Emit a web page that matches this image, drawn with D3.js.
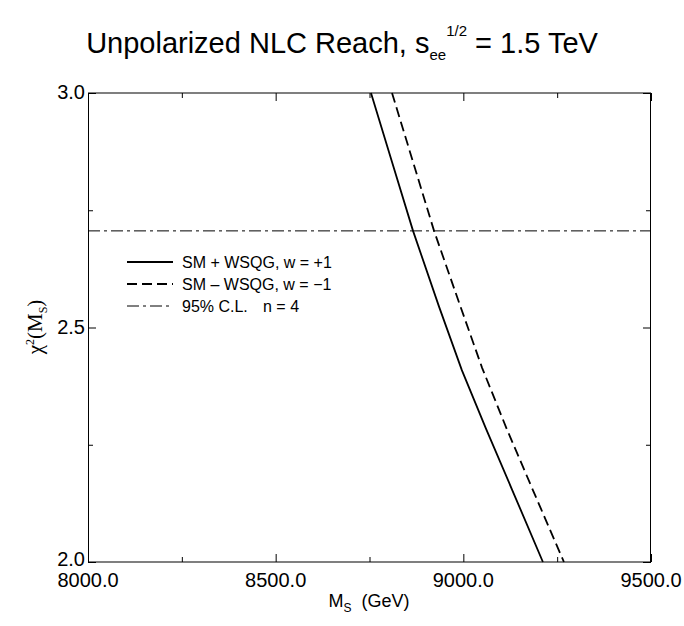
<!DOCTYPE html>
<html>
<head>
<meta charset="utf-8">
<script src="https://cdn.jsdelivr.net/npm/d3@7"></script>
<style>
  body { margin: 0; background: white; }
  text { font-family: "Liberation Sans", Arial, sans-serif; fill: black; }
</style>
</head>
<body>
<div id="grafico"></div>
<script>
// datos
var masas_mas = [8754, 8810, 8866, 8935, 8996, 9060, 9130, 9212];
var chi_mas = [3.0, 2.853, 2.706, 2.545, 2.409, 2.285, 2.154, 2.0];
var masas_menos = [8810, 8866, 8922, 8990, 9050, 9115, 9185, 9268];
var chi_menos = [3.0, 2.853, 2.706, 2.55, 2.414, 2.285, 2.154, 2.0];
var nivel_cl = 2.706;

var ticks_x = [8000, 8500, 9000, 9500];
var ticks_x_menores = [8250, 8750, 9250];
var ticks_y = [2.0, 2.5, 3.0];
var ticks_y_menores = [2.25, 2.75];

var leyenda = ["SM + WSQG, w = +1", "SM \u2013 WSQG, w = \u22121", "95% C.L."];

var W = 684, H = 626;
var margin = {top: 93, right: 33, bottom: 64, left: 88};
var width = 651 - 88;
var height = 562 - 93;

var svg = d3.select("#grafico").append("svg")
    .attr("width", W)
    .attr("height", H);

var g = svg.append("g")
    .attr("transform", "translate(" + margin.left + "," + margin.top + ")");

var xScale = d3.scaleLinear().domain([8000, 9500]).range([0, width]);
var yScale = d3.scaleLinear().domain([2.0, 3.0]).range([height, 0]);

// ejes con marcas hacia dentro
function ejes(axis, valores, largo, transform) {
  var a = g.append("g").attr("transform", transform)
    .call(axis.tickValues(valores).tickSize(largo).tickFormat(""));
  a.select(".domain").remove();
  a.selectAll("line").attr("stroke", "black");
  return a;
}
ejes(d3.axisBottom(xScale), ticks_x, -8, "translate(0," + height + ")");
ejes(d3.axisBottom(xScale), ticks_x_menores, -5, "translate(0," + height + ")");
ejes(d3.axisTop(xScale), ticks_x, -8, "translate(0,0)");
ejes(d3.axisTop(xScale), ticks_x_menores, -5, "translate(0,0)");
ejes(d3.axisLeft(yScale), ticks_y, -8, "translate(0,0)");
ejes(d3.axisLeft(yScale), ticks_y_menores, -5, "translate(0,0)");
ejes(d3.axisRight(yScale), ticks_y, -8, "translate(" + width + ",0)");
ejes(d3.axisRight(yScale), ticks_y_menores, -5, "translate(" + width + ",0)");

// etiquetas de los ejes
g.selectAll(".xlab").data(ticks_x).enter().append("text")
    .attr("class", "xlab")
    .attr("x", d => xScale(d))
    .attr("y", height + 25)
    .attr("text-anchor", "middle")
    .style("font-size", "20px")
    .text(d => d.toFixed(1));

g.selectAll(".ylab").data(ticks_y).enter().append("text")
    .attr("class", "ylab")
    .attr("x", -3)
    .attr("y", d => yScale(d) + (d == 2.0 ? 4 : 6))
    .attr("text-anchor", "end")
    .style("font-size", "20px")
    .text(d => d.toFixed(1));

// marco
g.append("line").attr("x1", 0).attr("x2", width).attr("y1", 0).attr("y2", 0)
    .attr("stroke", "black").attr("stroke-width", 1.2);
g.append("line").attr("x1", 0).attr("x2", width).attr("y1", height).attr("y2", height)
    .attr("stroke", "black").attr("stroke-width", 1.2);
g.append("line").attr("x1", 0.5).attr("x2", 0.5).attr("y1", 0).attr("y2", height)
    .attr("stroke", "black").attr("stroke-width", 1);
g.append("line").attr("x1", width - 0.5).attr("x2", width - 0.5).attr("y1", 0).attr("y2", height)
    .attr("stroke", "black").attr("stroke-width", 1);

// curvas
var linea = d3.line().x(d => xScale(d[0])).y(d => yScale(d[1]));
var datos_mas = masas_mas.map((m, i) => [m, chi_mas[i]]);
var datos_menos = masas_menos.map((m, i) => [m, chi_menos[i]]);

g.append("path").datum(datos_mas)
    .attr("d", linea)
    .attr("fill", "none")
    .attr("stroke", "black")
    .attr("stroke-width", 1.8);

g.append("path").datum(datos_menos)
    .attr("d", linea)
    .attr("fill", "none")
    .attr("stroke", "black")
    .attr("stroke-width", 1.8)
    .attr("stroke-dasharray", "10,5");

g.append("line")
    .attr("x1", xScale(8000)).attr("x2", xScale(9500))
    .attr("y1", yScale(nivel_cl)).attr("y2", yScale(nivel_cl))
    .attr("stroke", "black")
    .attr("stroke-width", 1)
    .attr("stroke-dasharray", "12,4,3,4");

// leyenda
var estilos = [
  {dash: null, w: 1.8},
  {dash: "10,5", w: 1.8},
  {dash: "12,4,3,4", w: 1}
];
var leg = svg.append("g").attr("transform", "translate(127,262)");
leg.selectAll("line").data(estilos).enter().append("line")
    .attr("x1", 0).attr("x2", 46)
    .attr("y1", (d, i) => i * 22).attr("y2", (d, i) => i * 22)
    .attr("stroke", "black")
    .attr("stroke-width", d => d.w)
    .attr("stroke-dasharray", d => d.dash);
leg.selectAll("text").data(leyenda).enter().append("text")
    .attr("x", 55)
    .attr("y", (d, i) => i * 22 + 6)
    .style("font-size", "16px")
    .text(d => d);
leg.append("text")
    .attr("x", 136).attr("y", 2 * 22 + 6)
    .style("font-size", "16px")
    .text("n = 4");

// titulo
var titulo = svg.append("text")
    .attr("x", W / 2)
    .attr("y", 53)
    .attr("text-anchor", "middle")
    .style("font-size", "29px");
titulo.append("tspan").text("Unpolarized NLC Reach, s");
titulo.append("tspan").attr("dy", 7).style("font-size", "15px").text("ee");
titulo.append("tspan").attr("dy", -24).style("font-size", "15px").text("1/2");
titulo.append("tspan").attr("dy", 17).text(" = 1.5 TeV");

// etiqueta eje x
var ex = svg.append("text")
    .attr("x", 369)
    .attr("y", 607)
    .attr("text-anchor", "middle")
    .style("font-size", "18px");
ex.append("tspan").text("M");
ex.append("tspan").attr("dy", 5).style("font-size", "12px").text("S");
ex.append("tspan").attr("dy", -5).attr("xml:space", "preserve").text("  (GeV)");

// etiqueta eje y
var ey = svg.append("text")
    .attr("transform", "translate(42,327) rotate(-90)")
    .attr("text-anchor", "middle")
    .style("font-family", "'Liberation Serif', serif")
    .style("font-size", "21px");
ey.append("tspan").text("\u03c7");
ey.append("tspan").attr("dy", -8).style("font-size", "12px").text("2");
ey.append("tspan").attr("dy", 8).text("(M");
ey.append("tspan").attr("dy", 5).style("font-size", "12px").text("S");
ey.append("tspan").attr("dy", -5).text(")");
</script>
</body>
</html>
